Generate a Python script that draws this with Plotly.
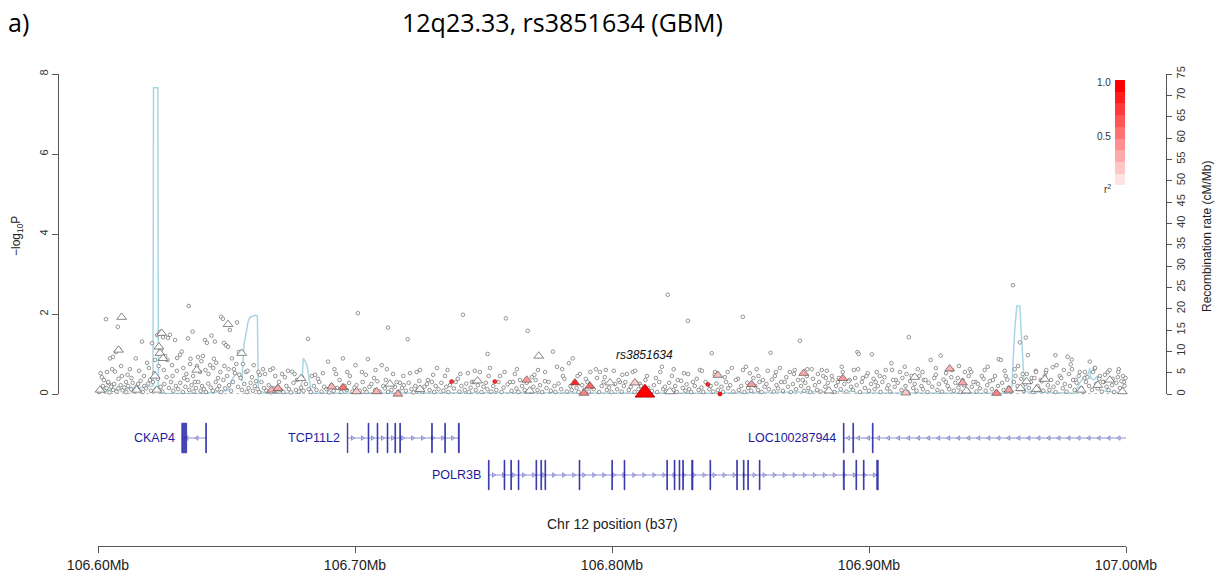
import numpy as np
import plotly.graph_objects as go

W, H = 1223, 585
REGION_START_KB = 106600.0
REGION_END_KB = 107000.0

# ---------------- recombination rate: (kb from region start, cM/Mb) ----------------
recomb_offset_kb = [0.0, 4.7, 12.4, 18.3, 21.0, 21.4, 21.6, 23.3, 23.5, 26.1, 39.7, 47.5,
                    50.6, 52.1, 53.7, 55.2, 56.0, 56.8, 58.4, 59.1, 61.5, 62.0, 62.4, 65.0,
                    78.6, 79.4, 79.9, 81.3, 82.5, 83.2, 156.4, 234.2, 292.5, 293.7, 294.9,
                    354.8, 355.6, 356.7, 357.5, 358.7, 359.4, 360.6, 380.1, 382.0, 383.2,
                    385.5, 385.9, 386.3, 387.4, 389.0, 389.8, 393.7, 400.0]
recomb_rate = [0.7, 0.9, 1.4, 1.6, 1.9, 1.9, 71.8, 71.8, 1.4, 0.2, 0.1, 0.5,
               0.9, 3.3, 4.9, 4.5, 3.0, 11.5, 16.9, 18.0, 18.5, 18.3, 0.9, 0.2,
               0.2, 3.3, 8.4, 6.8, 2.1, 0.2, 0.3, 0.2, 0.6, 1.0, 0.3,
               0.2, 2.1, 15.0, 20.6, 20.6, 12.7, 0.5, 0.2, 2.6, 3.7,
               4.9, 6.1, 3.7, 3.3, 4.2, 0.9, 0.5, 0.2]

# ---------------- imputed SNPs, low LD with the index SNP: (kb, -log10 P) ----------------
snps_left = [
    (3.1, 1.87), (7.7, 1.68), (8.2, 1.12), (7.0, 1.05), (1.0, 0.52), (4.7, 0.89), (5.8, 0.93),
    (6.6, 0.56), (2.3, 0.35), (3.9, 0.28), (5.4, 0.22), (9.3, 0.45), (10.9, 0.30), (12.4, 0.62),
    (14.7, 0.89), (15.6, 0.25), (17.1, 1.31), (17.9, 0.45), (19.1, 0.78), (20.2, 0.35),
    (21.0, 1.27), (22.2, 0.85), (23.0, 1.47), (24.1, 1.55), (24.5, 1.10), (25.3, 1.42),
    (26.1, 0.95), (27.2, 1.40), (28.0, 1.48), (28.8, 0.72), (30.0, 1.35), (30.7, 0.58),
    (31.9, 0.98), (32.6, 1.06), (33.5, 0.40), (35.0, 1.39), (35.3, 2.20), (36.8, 1.56),
    (35.8, 0.75), (37.7, 0.30), (38.9, 0.92), (39.7, 0.55), (40.8, 0.95), (41.6, 1.35),
    (42.4, 1.28), (43.6, 0.72), (44.2, 1.46), (45.1, 0.88), (45.5, 1.31), (46.7, 0.40),
    (47.9, 1.93), (48.6, 1.88), (49.0, 1.28), (49.8, 1.22), (50.6, 1.18), (51.3, 1.60),
    (52.1, 0.89), (52.9, 0.62), (54.1, 1.79), (54.8, 1.05), (56.4, 0.75), (57.6, 0.55),
    (59.9, 0.42), (61.5, 0.32), (63.0, 0.48), (64.2, 0.62), (68.1, 0.64), (70.4, 0.30),
    (72.7, 0.42), (73.9, 0.58), (75.5, 0.56), (77.4, 0.35), (81.7, 1.38), (83.2, 0.45),
    (85.6, 0.38), (89.5, 0.81), (92.6, 0.50), (95.3, 0.89), (98.0, 0.45), (101.1, 2.02),
    (102.7, 0.55), (105.0, 0.87), (107.4, 0.40), (110.4, 0.72), (112.8, 1.66), (112.0, 0.35),
    (1.5, 0.42), (3.5, 0.55), (5.5, 0.62), (8.0, 0.38), (9.0, 0.70), (11.5, 0.48), (13.0, 0.40),
    (16.0, 0.58), (19.8, 0.65), (21.8, 0.52), (23.6, 0.70), (25.6, 0.60), (27.0, 0.85),
    (29.0, 0.45), (30.8, 0.90), (33.2, 0.65), (34.4, 0.50), (36.0, 0.88), (37.0, 0.45),
    (38.5, 0.70), (40.2, 0.82), (41.8, 0.60), (43.0, 0.50), (44.8, 0.65), (46.0, 0.78),
    (47.6, 0.55), (49.2, 0.70), (50.8, 0.62), (53.8, 0.75), (55.0, 0.48), (58.2, 0.58),
    (60.6, 0.72), (62.4, 0.55), (65.0, 0.50), (67.0, 0.60), (69.0, 0.45), (71.6, 0.50),
    (76.5, 0.50), (79.4, 0.42), (84.5, 0.48), (87.5, 0.52), (92.0, 0.62), (97.0, 0.55),
    (100.2, 0.72), (104.2, 0.48), (108.0, 0.60),
]
snps_mid = [
    (114.8, 0.50), (117.5, 0.28), (120.5, 1.37), (121.4, 0.52), (125.3, 0.60), (128.4, 0.35),
    (131.9, 0.65), (135.0, 0.45), (140.0, 0.38), (142.0, 1.98), (143.9, 0.52), (145.5, 0.30),
    (148.6, 0.55), (151.6, 1.00), (152.5, 0.65), (156.4, 0.45), (158.7, 1.89), (160.3, 0.30),
    (162.2, 0.50), (164.2, 0.35), (167.2, 1.58), (168.8, 0.42), (171.2, 0.60), (173.9, 0.32),
    (177.0, 1.06), (178.6, 0.68), (180.9, 0.45), (183.2, 0.77), (184.7, 0.89), (187.5, 0.50),
    (189.8, 0.38), (193.7, 0.62), (195.3, 0.55), (197.2, 0.42), (200.7, 0.58), (203.1, 0.30),
    (205.8, 0.50), (208.1, 0.55), (210.8, 0.25), (217.1, 0.40), (219.4, 0.68), (221.7, 2.48),
    (223.3, 0.45), (225.6, 0.35), (228.0, 0.52), (229.5, 1.83), (231.5, 0.30), (234.2, 0.60),
    (238.8, 1.02), (240.1, 0.55), (243.9, 0.42), (246.6, 0.65), (249.0, 0.38), (250.9, 1.93),
    (252.1, 0.68), (253.6, 0.52), (256.3, 0.62), (258.7, 0.35), (260.6, 0.58), (261.7, 1.03),
    (112.4, 0.62), (118.8, 0.45), (124.0, 0.55), (130.4, 0.48), (136.0, 0.60), (141.0, 0.50),
    (146.6, 0.58), (152.0, 0.45), (158.2, 0.55), (163.0, 0.62), (169.8, 0.48), (174.0, 0.55),
    (180.6, 0.62), (186.6, 0.45), (191.6, 0.55), (197.6, 0.60), (204.0, 0.48), (209.0, 0.58),
    (213.6, 0.45), (218.8, 0.55), (224.0, 0.62), (229.6, 0.50), (235.0, 0.58), (240.0, 0.48),
    (245.0, 0.55), (251.0, 0.60), (257.0, 0.45),
]
snps_right = [
    (263.4, 0.45), (265.3, 0.65), (267.2, 0.30), (269.2, 0.55), (271.1, 0.60), (273.1, 1.33),
    (274.2, 0.35), (275.8, 0.45), (277.7, 0.62), (280.1, 0.50), (281.6, 0.60), (283.2, 0.40),
    (285.5, 0.45), (287.9, 0.30), (289.8, 0.55), (292.5, 0.35), (294.1, 0.60), (295.5, 1.05),
    (296.0, 1.00), (297.6, 0.40), (299.5, 0.52), (301.1, 0.99), (302.6, 0.30), (304.2, 0.45),
    (306.5, 0.60), (308.7, 0.77), (310.4, 0.35), (312.0, 0.55), (313.9, 0.68), (315.5, 1.42),
    (316.6, 0.45), (319.0, 0.62), (321.3, 0.35), (324.0, 0.85), (326.0, 0.48), (327.9, 0.96),
    (329.9, 0.30), (332.2, 0.60), (334.5, 0.40), (337.3, 0.55), (339.2, 0.62), (341.5, 0.30),
    (343.9, 0.45), (346.2, 0.68), (348.2, 0.35), (350.5, 0.87), (351.3, 0.85), (353.2, 0.45),
    (356.0, 2.72), (356.7, 0.62), (358.7, 1.29), (359.8, 0.50), (361.0, 1.41), (361.8, 0.97),
    (363.3, 0.40), (364.9, 0.58), (366.8, 0.35), (368.8, 0.55), (371.5, 0.67), (372.5, 0.97),
    (374.2, 0.45), (375.8, 0.60), (377.3, 0.93), (378.9, 0.86), (378.5, 0.74), (380.4, 0.35),
    (382.0, 0.55), (383.9, 0.40), (385.9, 0.81), (387.8, 0.64), (389.8, 0.45), (391.3, 0.30),
    (392.9, 0.55), (394.8, 0.38), (397.2, 0.62), (398.8, 0.45), (399.2, 0.30),
    (263.8, 0.55), (270.8, 0.50), (276.0, 0.62), (283.6, 0.58), (289.4, 0.68), (295.8, 0.62),
    (303.0, 0.55), (309.0, 0.60), (314.6, 0.50), (320.8, 0.55), (326.0, 0.65), (330.0, 0.52),
    (335.0, 0.70), (339.8, 0.55), (345.0, 0.60), (352.8, 0.58), (358.0, 0.70), (365.0, 0.55),
    (369.0, 0.60), (373.0, 0.72), (379.0, 0.62), (384.0, 0.55), (388.0, 0.65), (393.6, 0.60),
    (397.0, 0.55),
]
snps_floor = [
    (0.4, 0.05), (1.2, 0.12), (1.9, 0.20), (2.5, 0.08), (3.3, 0.15), (4.0, 0.30), (4.4, 0.04),
    (5.1, 0.18), (5.9, 0.10), (6.3, 0.25), (7.2, 0.06), (7.9, 0.14), (8.8, 0.22), (9.6, 0.09),
    (10.2, 0.16), (11.0, 0.05), (11.7, 0.20), (12.9, 0.12), (13.5, 0.28), (14.1, 0.07),
    (15.0, 0.18), (15.8, 0.10), (16.6, 0.33), (17.4, 0.05), (18.0, 0.20), (18.7, 0.14),
    (19.5, 0.26), (20.6, 0.08), (21.4, 0.30), (22.5, 0.12), (23.3, 0.38), (24.4, 0.18),
    (25.0, 0.06), (25.8, 0.25), (26.7, 0.42), (27.6, 0.15), (28.4, 0.30), (29.3, 0.08),
    (30.3, 0.20), (31.2, 0.12), (32.0, 0.28), (33.0, 0.05), (34.0, 0.18), (34.8, 0.35),
    (35.5, 0.10), (36.4, 0.22), (37.2, 0.06), (38.1, 0.15), (39.0, 0.30), (39.9, 0.08),
    (40.5, 0.20), (41.2, 0.12), (42.0, 0.05), (42.9, 0.26), (43.9, 0.16), (44.7, 0.08),
    (45.8, 0.30), (46.4, 0.12), (47.2, 0.20), (48.0, 0.05), (48.8, 0.35), (49.5, 0.14),
    (50.2, 0.45), (51.0, 0.22), (51.8, 0.08), (52.5, 0.30), (53.3, 0.52), (54.5, 0.18),
    (55.5, 0.40), (56.0, 0.10), (56.9, 0.25), (57.9, 0.05), (58.6, 0.15), (59.4, 0.28),
    (60.3, 0.08), (61.0, 0.20), (62.1, 0.12), (62.7, 0.05), (63.6, 0.30), (64.6, 0.15),
    (65.5, 0.08), (66.4, 0.22), (67.3, 0.04), (68.5, 0.14), (69.4, 0.06), (70.0, 0.18),
    (71.2, 0.10), (72.1, 0.05), (73.3, 0.20), (74.3, 0.12), (75.0, 0.04), (76.1, 0.28),
    (77.0, 0.10), (78.2, 0.06), (79.0, 0.16), (80.0, 0.08), (80.9, 0.25), (82.0, 0.12),
    (82.8, 0.05), (84.0, 0.20), (85.0, 0.10), (86.1, 0.30), (87.0, 0.06), (88.0, 0.18),
    (88.9, 0.12), (90.0, 0.04), (90.8, 0.22), (91.7, 0.08), (93.0, 0.15), (94.0, 0.35),
    (94.7, 0.05), (96.0, 0.20), (96.8, 0.10), (97.7, 0.28), (99.0, 0.06), (99.8, 0.16),
    (100.6, 0.22), (101.8, 0.08), (103.0, 0.30), (103.8, 0.12), (104.5, 0.05), (105.6, 0.18),
    (106.4, 0.25), (107.9, 0.10), (108.7, 0.32), (109.5, 0.06), (111.0, 0.20), (111.6, 0.14),
    (112.9, 0.05), (113.7, 0.25), (114.2, 0.10), (115.5, 0.18), (116.2, 0.30), (117.0, 0.06),
    (118.3, 0.15), (119.0, 0.22), (119.8, 0.08), (120.9, 0.28), (122.0, 0.12), (122.8, 0.04),
    (123.5, 0.20), (124.4, 0.10), (125.0, 0.33), (126.2, 0.06), (127.0, 0.18), (128.0, 0.25),
    (129.0, 0.10), (129.9, 0.30), (130.8, 0.05), (131.4, 0.20), (132.5, 0.12), (133.6, 0.28),
    (134.4, 0.08), (135.5, 0.18), (136.3, 0.05), (137.0, 0.22), (138.5, 0.14), (139.2, 0.30),
    (140.6, 0.06), (141.4, 0.20), (142.7, 0.10), (143.3, 0.26), (144.4, 0.05), (145.0, 0.16),
    (146.2, 0.30), (147.0, 0.10), (147.8, 0.22), (149.2, 0.05), (150.0, 0.18), (150.9, 0.28),
    (151.5, 0.12), (153.0, 0.06), (153.8, 0.20), (155.0, 0.10), (155.8, 0.30), (157.0, 0.05),
    (157.8, 0.16), (159.4, 0.24), (160.9, 0.08), (161.5, 0.30), (162.8, 0.14), (163.6, 0.05),
    (165.0, 0.20), (166.0, 0.10), (166.8, 0.28), (168.2, 0.06), (169.4, 0.18), (170.3, 0.35),
    (171.0, 0.10), (172.0, 0.22), (172.8, 0.05), (174.5, 0.15), (175.3, 0.30), (176.2, 0.08),
    (177.6, 0.20), (178.0, 0.05), (179.2, 0.26), (180.2, 0.12), (181.5, 0.38), (182.4, 0.06),
    (183.8, 0.20), (184.3, 0.10), (185.4, 0.30), (186.2, 0.15), (187.0, 0.05), (188.4, 0.22),
    (189.2, 0.10), (190.4, 0.30), (191.0, 0.06), (192.0, 0.18), (192.9, 0.12), (194.2, 0.40),
    (195.0, 0.05), (196.0, 0.20), (196.7, 0.30), (198.0, 0.10), (198.8, 0.16), (199.8, 0.05),
    (201.2, 0.25), (202.0, 0.12), (202.6, 0.35), (203.8, 0.06), (204.6, 0.20), (205.2, 0.30),
    (206.5, 0.10), (207.3, 0.18), (208.8, 0.05), (209.5, 0.28), (210.3, 0.12), (211.4, 0.20),
    (212.2, 0.06), (213.0, 0.35), (214.0, 0.15), (215.5, 0.08), (216.3, 0.22), (217.6, 0.05),
    (218.4, 0.30), (219.9, 0.12), (220.6, 0.18), (221.2, 0.06), (222.2, 0.28), (223.9, 0.10),
    (224.6, 0.20), (225.2, 0.05), (226.9, 0.33), (227.5, 0.15), (228.6, 0.08), (229.0, 0.24),
    (230.0, 0.12), (230.8, 0.05), (232.2, 0.20), (233.0, 0.38), (233.7, 0.10), (234.8, 0.16),
    (235.5, 0.05), (236.4, 0.30), (237.9, 0.12), (238.4, 0.20), (239.4, 0.06), (240.6, 0.26),
    (241.2, 0.10), (242.6, 0.18), (243.2, 0.05), (244.4, 0.30), (245.2, 0.14), (246.0, 0.22),
    (247.2, 0.06), (248.2, 0.35), (249.4, 0.10), (250.3, 0.20), (251.5, 0.05), (252.6, 0.28),
    (253.0, 0.15), (254.2, 0.08), (255.0, 0.40), (255.8, 0.20), (256.8, 0.10), (257.4, 0.30),
    (258.2, 0.05), (259.4, 0.18), (260.1, 0.25), (261.0, 0.12), (262.2, 0.36), (263.0, 0.06),
    (264.0, 0.22), (264.6, 0.14), (265.8, 0.30), (266.5, 0.08), (267.8, 0.42), (268.5, 0.18),
    (269.6, 0.05), (270.4, 0.25), (271.6, 0.12), (272.4, 0.35), (273.6, 0.20), (274.8, 0.08),
    (275.2, 0.28), (276.4, 0.15), (277.2, 0.05), (278.2, 0.38), (279.0, 0.22), (279.8, 0.10),
    (280.6, 0.30), (281.2, 0.06), (282.2, 0.45), (283.0, 0.18), (284.0, 0.28), (284.4, 0.10),
    (285.8, 0.35), (286.5, 0.05), (287.2, 0.20), (288.3, 0.40), (289.0, 0.12), (290.4, 0.25),
    (291.2, 0.06), (292.0, 0.32), (293.0, 0.18), (293.8, 0.10), (294.6, 0.40), (295.2, 0.22),
    (296.5, 0.05), (297.2, 0.30), (298.4, 0.15), (299.0, 0.45), (300.0, 0.08), (300.8, 0.25),
    (301.8, 0.38), (302.2, 0.12), (303.4, 0.20), (304.5, 0.05), (305.2, 0.30), (306.0, 0.42),
    (307.0, 0.14), (307.6, 0.22), (308.2, 0.06), (309.4, 0.35), (310.0, 0.18), (311.2, 0.28),
    (312.6, 0.10), (313.0, 0.40), (314.2, 0.20), (315.0, 0.05), (316.0, 0.32), (317.2, 0.15),
    (317.8, 0.25), (318.5, 0.08), (319.6, 0.45), (320.4, 0.20), (321.0, 0.12), (322.0, 0.35),
    (322.8, 0.05), (323.2, 0.28), (324.6, 0.18), (325.4, 0.40), (326.6, 0.10), (327.2, 0.25),
    (328.4, 0.06), (329.0, 0.36), (330.6, 0.20), (331.2, 0.12), (332.0, 0.42), (333.0, 0.08),
    (333.6, 0.28), (334.8, 0.16), (335.6, 0.05), (336.4, 0.35), (337.0, 0.22), (338.2, 0.10),
    (338.8, 0.45), (340.0, 0.18), (340.6, 0.30), (341.8, 0.06), (342.4, 0.25), (343.2, 0.14),
    (344.6, 0.38), (345.4, 0.08), (346.0, 0.22), (347.0, 0.32), (347.8, 0.12), (349.0, 0.45),
    (349.6, 0.05), (350.2, 0.20), (351.8, 0.28), (352.4, 0.10), (353.8, 0.36), (354.4, 0.16),
    (355.2, 0.06), (356.4, 0.30), (357.0, 0.45), (357.8, 0.20), (358.4, 0.12), (359.2, 0.38),
    (360.2, 0.08), (360.8, 0.25), (361.4, 0.50), (362.2, 0.15), (363.0, 0.30), (363.8, 0.05),
    (364.4, 0.40), (365.6, 0.20), (366.2, 0.12), (367.2, 0.32), (367.8, 0.08), (368.4, 0.45),
    (369.6, 0.22), (370.2, 0.10), (370.8, 0.35), (371.8, 0.18), (372.6, 0.05), (373.4, 0.28),
    (374.8, 0.40), (375.4, 0.14), (376.2, 0.25), (376.8, 0.06), (377.8, 0.50), (378.2, 0.20),
    (379.4, 0.35), (380.0, 0.10), (380.8, 0.28), (381.6, 0.45), (382.6, 0.15), (383.2, 0.05),
    (384.4, 0.30), (385.0, 0.42), (385.6, 0.20), (386.8, 0.10), (387.2, 0.55), (388.4, 0.25),
    (389.0, 0.14), (389.6, 0.38), (390.6, 0.06), (391.0, 0.30), (391.8, 0.48), (392.4, 0.18),
    (393.2, 0.10), (394.0, 0.36), (394.6, 0.22), (395.4, 0.05), (396.2, 0.28), (396.8, 0.42),
    (397.6, 0.15), (398.2, 0.32), (398.6, 0.08), (399.4, 0.20), (399.8, 0.40),
]

# imputed SNPs in LD with the index SNP: (kb, -log10 P, r2)
snps_ld = [(137.6, 0.31, 0.80), (154.4, 0.31, 0.80), (237.3, 0.24, 0.85), (242.0, 0.0, 0.95)]

# genotyped SNPs: (kb, -log10 P, r2)
typed_snps = [
    (0.8, 0.10, 0.0), (9.2, 1.92, 0.0), (8.0, 1.10, 0.0), (15.0, 0.10, 0.0), (22.2, 0.45, 0.0),
    (22.9, 0.10, 0.0), (23.7, 1.18, 0.0), (24.1, 1.02, 0.0), (24.8, 1.52, 0.0), (25.3, 0.89, 0.0),
    (38.4, 0.60, 0.0), (50.6, 1.74, 0.0), (55.9, 1.02, 0.0), (67.6, 0.10, 0.30), (70.0, 0.14, 0.35),
    (79.0, 0.39, 0.0), (90.9, 0.18, 0.30), (95.3, 0.16, 0.55), (100.6, 0.06, 0.20),
    (108.4, 0.06, 0.30), (113.6, 0.25, 0.0), (116.7, 0.00, 0.35), (125.3, 0.12, 0.0),
    (147.7, 0.33, 0.0), (166.8, 0.35, 0.40), (168.0, 0.08, 0.0), (171.5, 0.95, 0.0),
    (185.6, 0.28, 0.85), (191.4, 0.20, 0.60), (189.1, 0.02, 0.50), (199.2, 0.28, 0.0),
    (208.9, 0.28, 0.20), (222.5, 0.06, 0.0), (241.2, 0.47, 0.25), (254.3, 0.24, 0.40),
    (274.6, 0.52, 0.35), (284.4, 0.08, 0.0), (289.8, 0.39, 0.40), (314.3, 0.03, 0.20),
    (317.8, 0.42, 0.0), (331.4, 0.63, 0.30), (336.4, 0.28, 0.35), (337.9, 0.08, 0.0),
    (349.6, 0.02, 0.50), (354.4, 0.10, 0.35), (358.9, 0.14, 0.0), (361.3, 0.31, 0.0),
    (365.2, 0.12, 0.0), (368.4, 0.37, 0.0), (382.6, 0.10, 0.0), (389.0, 0.22, 0.0),
    (393.7, 0.35, 0.0), (398.6, 0.06, 0.0),
]

# index SNP
lead_name = "rs3851634"
lead_offset_kb = 212.8
lead_logp = 0.03

# ---------------- genes (kb from region start) ----------------
gene_names = ["CKAP4", "TCP11L2", "POLR3B", "LOC100287944"]
gene_row = [1, 1, 2, 1]
gene_strand = ["-", "+", "+", "-"]
gene_start_kb = [32.6, 97.0, 151.9, 290.0]
gene_end_kb = [42.2, 140.6, 303.6, 400.0]
gene_exons_kb = [
    [(32.6, 34.5), (41.9, 42.2)],
    [(97.0, 97.2), (105.1, 105.4), (108.6, 108.9), (112.5, 112.8), (115.5, 115.8),
     (117.4, 117.7), (129.8, 130.1), (134.9, 135.2), (140.2, 140.6)],
    [(151.9, 152.2), (158.0, 158.3), (160.6, 160.9), (163.5, 163.8), (170.4, 170.7),
     (172.3, 172.6), (173.9, 174.2), (187.2, 187.5), (199.9, 200.2), (204.7, 205.0),
     (221.3, 221.6), (224.2, 224.5), (226.1, 226.4), (227.5, 227.8), (231.0, 231.5),
     (238.1, 238.4), (248.5, 248.8), (251.1, 251.4), (252.8, 253.1), (257.3, 257.6),
     (290.0, 290.4), (294.9, 295.2), (297.8, 298.1), (303.0, 303.6)],
    [(290.0, 290.3), (293.7, 294.0), (301.3, 301.6)],
]

R2_LEVELS = 10


def mb(offset_kb):
    return (REGION_START_KB + offset_kb) / 1000.0


def ld_color(r2):
    v = int(round(255 * (1 - r2)))
    return f"rgb(255,{v},{v})"


def px_x(px):
    return px / W


def px_y(py):
    return 1 - py / H


fig = go.Figure()

# recombination rate (right axis)
fig.add_trace(go.Scatter(
    x=[mb(o) for o in recomb_offset_kb], y=recomb_rate, mode="lines",
    line=dict(color="#a9d6e5", width=1.5), xaxis="x", yaxis="y", hoverinfo="skip"))

# baseline at -log10 P = 0
fig.add_trace(go.Scatter(
    x=[REGION_START_KB / 1000, REGION_END_KB / 1000], y=[0, 0], mode="lines",
    line=dict(color="#8a8a8a", width=1, dash="dot"), xaxis="x", yaxis="y2", hoverinfo="skip"))

all_low = snps_left + snps_mid + snps_right + snps_floor
fig.add_trace(go.Scatter(
    x=[mb(o) for o, _ in all_low], y=[p for _, p in all_low], mode="markers",
    marker=dict(symbol="circle", size=3.6, color="white", line=dict(color="#6a6a6a", width=0.7)),
    xaxis="x", yaxis="y2", cliponaxis=False))

fig.add_trace(go.Scatter(
    x=[mb(o) for o, _, _ in typed_snps], y=[p for _, p, _ in typed_snps], mode="markers",
    marker=dict(symbol="triangle-up", size=8.5, color=[ld_color(r) for _, _, r in typed_snps],
                line=dict(color="#555555", width=0.7)),
    xaxis="x", yaxis="y2", cliponaxis=False))

fig.add_trace(go.Scatter(
    x=[mb(o) for o, _, _ in snps_ld], y=[p for _, p, _ in snps_ld], mode="markers",
    marker=dict(symbol="circle", size=4, color=[ld_color(r) for _, _, r in snps_ld],
                line=dict(color="#b00000", width=0.6)),
    xaxis="x", yaxis="y2", cliponaxis=False))

fig.add_trace(go.Scatter(
    x=[mb(lead_offset_kb)], y=[lead_logp], mode="markers",
    marker=dict(symbol="triangle-up", size=17, color=ld_color(1.0),
                line=dict(color="#b00000", width=1)),
    xaxis="x", yaxis="y2", cliponaxis=False))

# gene track
EXON_HALF = 0.4
intron_x, intron_y = [], []
exon_x, exon_y = [], []
arrow_r_x, arrow_r_y, arrow_l_x, arrow_l_y = [], [], [], []
for name, row, strand, s, e, exons in zip(gene_names, gene_row, gene_strand,
                                          gene_start_kb, gene_end_kb, gene_exons_kb):
    intron_x += [mb(s), mb(e), None]
    intron_y += [row, row, None]
    for es, ee in exons:
        exon_x += [mb(es), mb(ee), mb(ee), mb(es), mb(es), None]
        exon_y += [row - EXON_HALF, row - EXON_HALF, row + EXON_HALF, row + EXON_HALF,
                   row - EXON_HALF, None]
    marks = np.arange(s + 2.0, e - 1.0, 3.9)
    if strand == "+":
        arrow_r_x += [mb(m) for m in marks]
        arrow_r_y += [row] * len(marks)
    else:
        arrow_l_x += [mb(m) for m in marks]
        arrow_l_y += [row] * len(marks)

arrow_col = "#7a7acc"
fig.add_trace(go.Scatter(x=intron_x, y=intron_y, mode="lines",
                         line=dict(color="#9090d4", width=1), xaxis="x", yaxis="y3",
                         hoverinfo="skip"))
fig.add_trace(go.Scatter(x=arrow_r_x, y=arrow_r_y, mode="markers",
                         marker=dict(symbol="triangle-right-open", size=4, color=arrow_col,
                                     line=dict(color=arrow_col, width=0.8)),
                         xaxis="x", yaxis="y3", hoverinfo="skip"))
fig.add_trace(go.Scatter(x=arrow_l_x, y=arrow_l_y, mode="markers",
                         marker=dict(symbol="triangle-left-open", size=4, color=arrow_col,
                                     line=dict(color=arrow_col, width=0.8)),
                         xaxis="x", yaxis="y3", hoverinfo="skip"))
fig.add_trace(go.Scatter(x=exon_x, y=exon_y, mode="lines", fill="toself",
                         fillcolor="rgba(25,25,160,0.8)",
                         line=dict(color="rgba(25,25,160,0.8)", width=0.8),
                         xaxis="x", yaxis="y3", hoverinfo="skip"))

# r2 legend bar
fig.add_trace(go.Heatmap(
    z=[[i] for i in range(R2_LEVELS)], x=[0], y=list(range(R2_LEVELS)),
    colorscale=[[i / (R2_LEVELS - 1), ld_color(i / (R2_LEVELS - 1))] for i in range(R2_LEVELS)],
    showscale=False, xaxis="x4", yaxis="y4", hoverinfo="skip", xgap=0, ygap=0))

font_base = "Liberation Sans, Arial, sans-serif"
annotations = []
for name, row, s in zip(gene_names, gene_row, gene_start_kb):
    annotations.append(dict(x=mb(s), y=row, xref="x", yref="y3", text=name, showarrow=False,
                            xanchor="right", yanchor="middle", xshift=-5,
                            font=dict(family=font_base, size=12.5, color="#1c1c9c")))

annotations += [
    dict(x=mb(lead_offset_kb), y=lead_logp, xref="x", yref="y2", text=f"<i>{lead_name}</i>",
         showarrow=False, yshift=38, font=dict(family=font_base, size=12, color="#111")),
    dict(x=px_x(562), y=px_y(22), xref="paper", yref="paper", text="12q23.33, rs3851634 (GBM)",
         showarrow=False, xanchor="center", yanchor="middle",
         font=dict(family="Open Sans, sans-serif", size=25, color="#000")),
    dict(x=px_x(6), y=px_y(22), xref="paper", yref="paper", text="a)",
         showarrow=False, xanchor="left", yanchor="middle",
         font=dict(family="Open Sans, sans-serif", size=25, color="#000")),
    dict(x=px_x(612), y=px_y(524), xref="paper", yref="paper", text="Chr 12 position (b37)",
         showarrow=False, xanchor="center", yanchor="middle",
         font=dict(family=font_base, size=14, color="#222")),
    dict(x=px_x(17), y=px_y(236), xref="paper", yref="paper", text="\u2212log<sub>10</sub>P",
         showarrow=False, textangle=-90, xanchor="center", yanchor="middle",
         font=dict(family=font_base, size=12, color="#222")),
    dict(x=px_x(1207), y=px_y(237), xref="paper", yref="paper",
         text="Recombination rate (cM/Mb)", showarrow=False, textangle=-90,
         xanchor="center", yanchor="middle", font=dict(family=font_base, size=12, color="#222")),
    dict(x=px_x(1113), y=px_y(83), xref="paper", yref="paper", text="1.0", showarrow=False,
         xanchor="right", yanchor="middle", font=dict(family=font_base, size=10, color="#333")),
    dict(x=px_x(1113), y=px_y(136), xref="paper", yref="paper", text="0.5", showarrow=False,
         xanchor="right", yanchor="middle", font=dict(family=font_base, size=10, color="#333")),
    dict(x=px_x(1113), y=px_y(189), xref="paper", yref="paper", text="r<sup>2</sup>",
         showarrow=False, xanchor="right", yanchor="middle",
         font=dict(family=font_base, size=10, color="#333")),
]

x_ticks = [106.6, 106.7, 106.8, 106.9, 107.0]
axis_col = "#555"
fig.update_layout(
    width=W, height=H, margin=dict(l=0, r=0, t=0, b=0),
    paper_bgcolor="white", plot_bgcolor="white", showlegend=False,
    font=dict(family=font_base),
    xaxis=dict(domain=[px_x(98), px_x(1126)], range=[106.6, 107.0], anchor="free",
               position=px_y(546), tickvals=x_ticks, ticktext=[f"{t:.2f}Mb" for t in x_ticks],
               ticks="outside", ticklen=6, tickcolor=axis_col, showline=True,
               linecolor=axis_col, linewidth=1, showgrid=False, zeroline=False,
               tickfont=dict(size=14, color="#222"), automargin=False),
    yaxis=dict(domain=[px_y(394), px_y(74)], range=[0, 75], side="right", anchor="free",
               position=px_x(1166), tickvals=list(range(0, 76, 5)), tickangle=-90,
               ticks="outside", ticklen=5, tickcolor=axis_col, showline=True,
               linecolor=axis_col, linewidth=1, showgrid=False, zeroline=False,
               tickfont=dict(size=11, color="#333"), automargin=False),
    yaxis2=dict(overlaying="y", range=[0, 8], side="left", anchor="free",
                position=px_x(58), tickvals=[0, 2, 4, 6, 8], tickangle=-90,
                ticks="outside", ticklen=6, tickcolor=axis_col, showline=True,
                linecolor=axis_col, linewidth=1, showgrid=False, zeroline=False,
                tickfont=dict(size=11, color="#333"), automargin=False),
    yaxis3=dict(domain=[px_y(512), px_y(401)], range=[3, 0], visible=False, anchor="free",
                position=0),
    xaxis4=dict(domain=[px_x(1115), px_x(1125)], range=[-0.5, 0.5], visible=False,
                anchor="y4"),
    yaxis4=dict(domain=[px_y(197), px_y(80)], range=[-0.5, R2_LEVELS - 0.5], visible=False,
                anchor="x4"),
    annotations=annotations,
)

fig.write_html("out.html")
